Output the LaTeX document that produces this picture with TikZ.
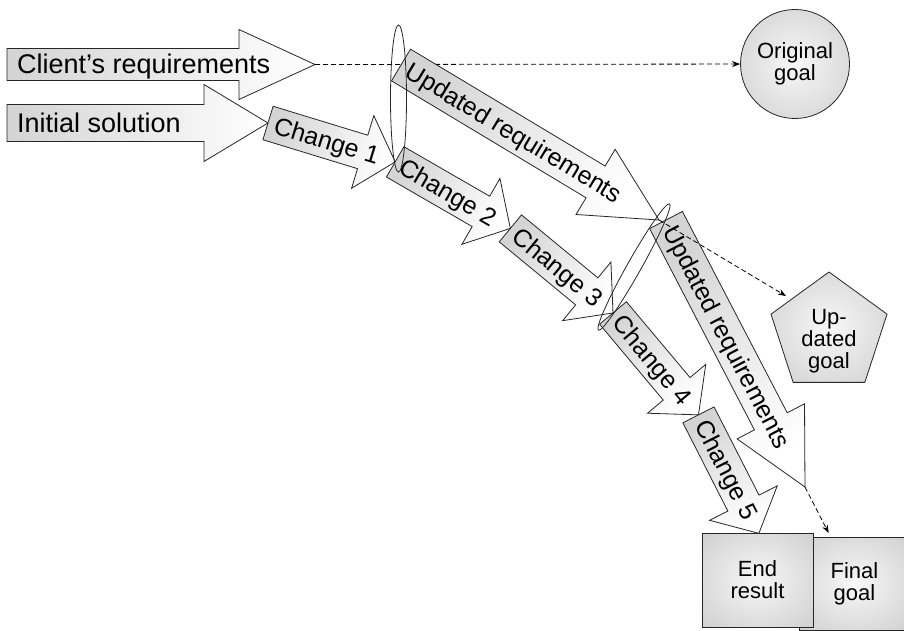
\documentclass[tikz,border=0pt]{standalone}
\usepackage{fontspec}
\setmainfont{Liberation Sans}
\usetikzlibrary{arrows.meta,shapes.geometric,calc}

% soft glow used for the goal shapes
\colorlet{glowcore}{black!3}
\colorlet{glowrim}{black!25}
\pgfdeclareradialshading{goalglow}{\pgfpoint{0bp}{0bp}}{color(0bp)=(glowcore); color(50bp)=(glowrim); color(72bp)=(glowrim)}

\newcommand\goalfont{\fontsize{22}{22}\selectfont}
\def\txtpad{8}

\tikzset{
  outline/.style={draw=black!85, line width=0.8pt},
  arrowbody/.style={outline, left color=black!17, right color=white},
  arrowlabel/.style={inner sep=0pt, anchor=base west},
  goal/.style={outline, shading=goalglow, align=center, font=\goalfont, inner sep=0pt},
  dashlink/.style={black, line width=0.8pt, dash pattern=on 5pt off 3pt, -{Stealth[length=8pt,width=6pt]}},
  grouping/.style={draw=black!85, line width=0.8pt},
}

% block arrow: name, tail point, angle below horizontal, body length,
% body half width, head half width, head length, font size, label
\newcommand\flowarrow[9]{%
  \begin{scope}[shift={#2}, rotate=-#3]
    \pgfmathsetmacro\shadeang{90-#3}
    \path[arrowbody, shading angle=\shadeang]
      (0,-#5) -- (#4,-#5) -- (#4,-#6) -- ({#4+#7},0) -- (#4,#6) -- (#4,#5) -- (0,#5) -- cycle;
    \coordinate (#1-tip) at ({#4+#7},0);
    \node[arrowlabel, rotate=-#3] (#1) at (\txtpad,{0.34*#8}) {\fontsize{#8}{#8}\selectfont #9};
  \end{scope}}

\begin{document}
\begin{tikzpicture}[x=1pt,y=-1pt]
\useasboundingbox (0,0) rectangle (904,631);

% goals
\node[goal, circle, minimum size=109pt] (orig) at (795,64) {Original\\goal};
\node[goal, regular polygon, regular polygon sides=5, minimum size=122pt] (updgoal) at (829,333) {};
\node[font=\goalfont, align=center, inner sep=0pt] (updtext) at (829,341) {Up-\\dated\\goal};
\node[goal, rectangle, minimum width=111pt, minimum height=93pt] (final) at (854.5,583.5) {Final\\goal};

% starting inputs
\def\txtpad{10}
\flowarrow{client}{(7,64.5)}{0}{232}{16}{35}{76}{27}{Client’s requirements}
\flowarrow{init}{(7,123)}{0}{197}{18.5}{38.5}{64}{27}{Initial solution}

\draw[dashlink] (client-tip) -- (orig);

% first change and first update of the requirements
\def\txtpad{7}
\flowarrow{chg1}{(init-tip)}{17}{99}{17.5}{38}{34}{25}{Change 1}
\coordinate (ur1-start) at (401,65);
\def\txtpad{8}
\flowarrow{ur1}{(ur1-start)}{31}{227}{18.5}{38}{74}{25}{Updated requirements}

% further changes
\def\txtpad{7}
\flowarrow{chg2}{(chg1-tip)}{30}{99}{17.5}{38}{34}{25}{Change 2}
\flowarrow{chg3}{(chg2-tip)}{39.5}{99}{17.5}{38}{34}{25}{Change 3}
\coordinate (ur2-start) at (666,220);
\def\txtpad{8}
\flowarrow{ur2}{(ur2-start)}{62.5}{227}{18.5}{38}{74}{25}{Updated requirements}
\def\txtpad{7}
\flowarrow{chg4}{(chg3-tip)}{50}{99}{17.5}{38}{34}{25}{Change 4}
\flowarrow{chg5}{(chg4-tip)}{63}{99}{17.5}{38}{34}{25}{Change 5}

% end result in front of the final goal
\node[goal, rectangle, minimum width=111pt, minimum height=94pt] (endres) at (757.5,580) {End\\result};

% groupings where requirements are updated
\draw[grouping] (398.5,98.5) ellipse [x radius=8, y radius=73.5];
\draw[grouping, rotate around={-29.4:(634,267)}] (634,267) ellipse [x radius=7, y radius=72.5];

% links to the goals
\coordinate (updaim) at (786,296);
\draw[dashlink] (ur1-tip) -- (updaim);
\draw[dashlink, shorten >=4pt] (ur2-tip) -- (final);
\end{tikzpicture}
\end{document}
